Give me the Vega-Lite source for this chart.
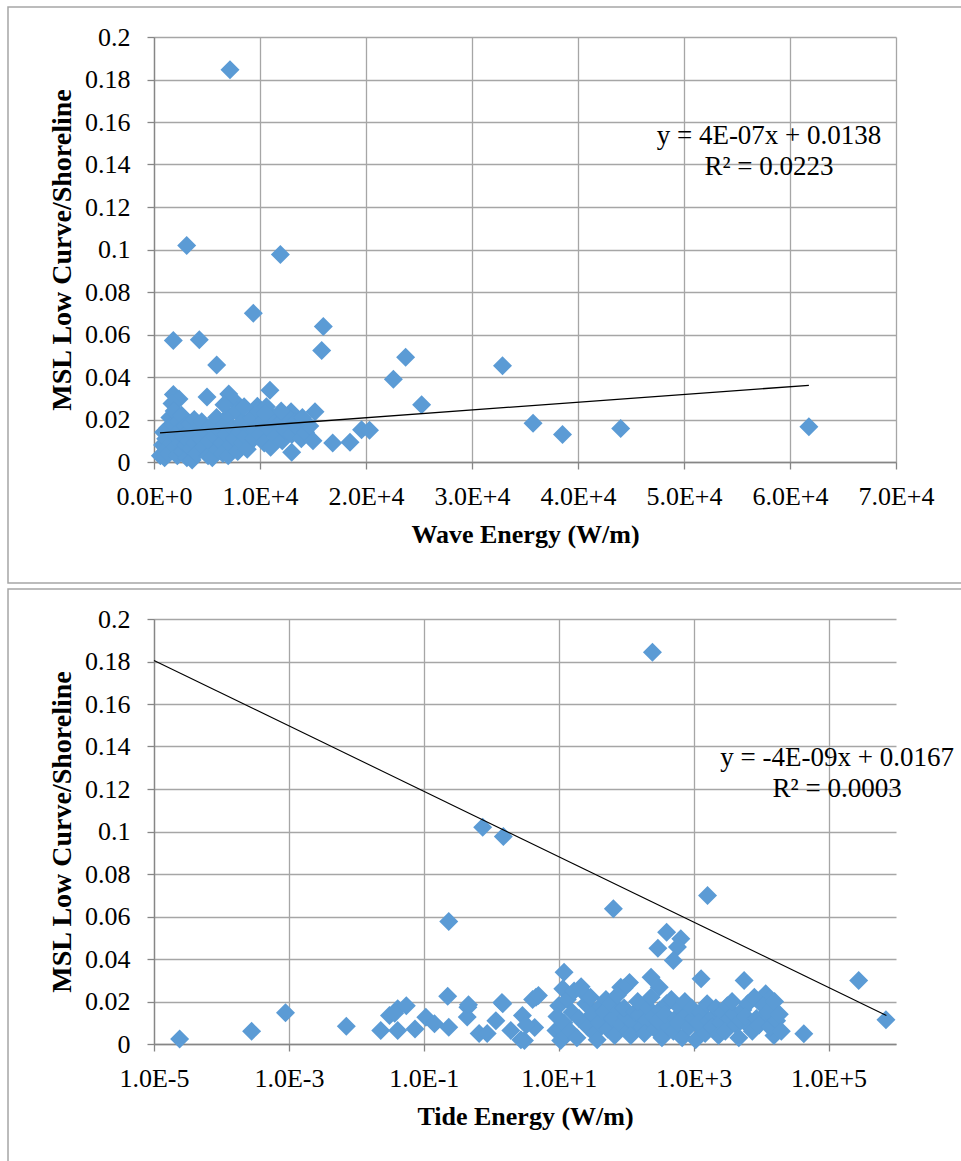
{
  "$schema": "https://vega.github.io/schema/vega-lite/v6.json",
  "autosize": {"type": "none"},
  "padding": {"left": 154, "top": 37, "right": 65, "bottom": 1124},
  "background": "white",
  "bounds": "flush",
  "spacing": 157,
  "config": {
    "view": {"stroke": null},
    "font": "Liberation Serif",
    "axis": {
      "grid": true,
      "domainColor": "#868686", "tickColor": "#868686", "gridColor": "#a6a6a6",
      "gridWidth": 1.3, "domainWidth": 1.3, "tickWidth": 1.3, "tickSize": 7,
      "labelFont": "Liberation Serif", "labelFontSize": 26, "labelColor": "black",
      "titleFont": "Liberation Serif", "titleFontSize": 26, "titleFontWeight": "bold", "titleColor": "black",
      "labelFlush": false, "labelOverlap": false, "labelBound": false
    }
  },
  "datasets": {
    "wave": [
      {"w":7170,"m":0.1846},{"w":3085,"m":0.1019},{"w":11920,"m":0.0976},{"w":9370,"m":0.07},{"w":15975,"m":0.0638},
      {"w":15820,"m":0.0525},{"w":1824,"m":0.0572},{"w":4275,"m":0.0575},{"w":5913,"m":0.0457},{"w":23740,"m":0.0493},
      {"w":22580,"m":0.039},{"w":25250,"m":0.0269},{"w":32880,"m":0.0453},{"w":35760,"m":0.0182},{"w":38540,"m":0.0129},
      {"w":44030,"m":0.0158},{"w":61780,"m":0.0166},{"w":19580,"m":0.0152},{"w":20330,"m":0.015},{"w":18490,"m":0.0093},
      {"w":16860,"m":0.0089},{"w":12990,"m":0.0046},{"w":10940,"m":0.0338},{"w":5000,"m":0.0306},{"w":7050,"m":0.032},
      {"w":7500,"m":0.0292},{"w":1830,"m":0.0318},{"w":2360,"m":0.0296},{"w":1700,"m":0.0275},{"w":15190,"m":0.0236},
      {"w":12930,"m":0.0237},{"w":9750,"m":0.0262},
      {"w":600,"m":0.003},{"w":800,"m":0.008},{"w":900,"m":0.014},{"w":1000,"m":0.002},{"w":1100,"m":0.011},
      {"w":1200,"m":0.006},{"w":1300,"m":0.016},{"w":1400,"m":0.004},{"w":1500,"m":0.021},{"w":1600,"m":0.009},
      {"w":1700,"m":0.013},{"w":1800,"m":0.018},{"w":1900,"m":0.024},{"w":2000,"m":0.007},{"w":2100,"m":0.012},
      {"w":2200,"m":0.003},{"w":2300,"m":0.019},{"w":2400,"m":0.015},{"w":2500,"m":0.009},{"w":2600,"m":0.022},
      {"w":2700,"m":0.005},{"w":2800,"m":0.012},{"w":2900,"m":0.017},{"w":3000,"m":0.008},{"w":3100,"m":0.002},
      {"w":3200,"m":0.014},{"w":3300,"m":0.01},{"w":3400,"m":0.018},{"w":3500,"m":0.006},{"w":3600,"m":0.001},
      {"w":3700,"m":0.013},{"w":3800,"m":0.02},{"w":3900,"m":0.009},{"w":4000,"m":0.004},{"w":4200,"m":0.016},
      {"w":4400,"m":0.011},{"w":4500,"m":0.019},{"w":4700,"m":0.007},{"w":4900,"m":0.014},{"w":5100,"m":0.003},
      {"w":5200,"m":0.01},{"w":5400,"m":0.017},{"w":5500,"m":0.002},{"w":5700,"m":0.012},{"w":5900,"m":0.021},
      {"w":6000,"m":0.006},{"w":6200,"m":0.015},{"w":6400,"m":0.009},{"w":6500,"m":0.004},{"w":6700,"m":0.018},
      {"w":6800,"m":0.013},{"w":7000,"m":0.003},{"w":7100,"m":0.022},{"w":7300,"m":0.008},{"w":7400,"m":0.016},
      {"w":7600,"m":0.011},{"w":7800,"m":0.024},{"w":7900,"m":0.005},{"w":8100,"m":0.014},{"w":8300,"m":0.019},
      {"w":8400,"m":0.009},{"w":8600,"m":0.012},{"w":8800,"m":0.006},{"w":9000,"m":0.017},{"w":9200,"m":0.021},
      {"w":9400,"m":0.011},{"w":9600,"m":0.015},{"w":9800,"m":0.024},{"w":10000,"m":0.013},{"w":10200,"m":0.019},
      {"w":10400,"m":0.009},{"w":10600,"m":0.026},{"w":10800,"m":0.016},{"w":11000,"m":0.007},{"w":11200,"m":0.021},
      {"w":11500,"m":0.012},{"w":11800,"m":0.018},{"w":12100,"m":0.01},{"w":12400,"m":0.015},{"w":12700,"m":0.021},
      {"w":13000,"m":0.013},{"w":13300,"m":0.019},{"w":13600,"m":0.016},{"w":13900,"m":0.011},{"w":14300,"m":0.014},
      {"w":14700,"m":0.017},{"w":15000,"m":0.01},{"w":14000,"m":0.021},{"w":12000,"m":0.024},{"w":10500,"m":0.023},
      {"w":8500,"m":0.026},{"w":6600,"m":0.027}
    ],
    "wavetrend": [{"w":566,"m":0.0137},{"w":61780,"m":0.0361}],
    "tide": [
      {"t":0.000024,"m":0.0023},{"t":0.00028,"m":0.006},{"t":0.00089,"m":0.0147},{"t":0.0071,"m":0.0084},
      {"t":0.746,"m":0.102},{"t":1.51,"m":0.0976},{"t":0.234,"m":0.0576},{"t":0.226,"m":0.0225},
      {"t":0.023,"m":0.0064},{"t":0.031,"m":0.0134},{"t":0.041,"m":0.0166},{"t":0.055,"m":0.018},
      {"t":0.041,"m":0.0064},{"t":0.074,"m":0.0071},{"t":0.107,"m":0.0126},{"t":0.144,"m":0.0095},
      {"t":0.234,"m":0.0079},{"t":0.45,"m":0.0173},{"t":0.44,"m":0.0127},{"t":0.66,"m":0.0049},
      {"t":0.87,"m":0.005},{"t":1.48,"m":0.0189},{"t":1.17,"m":0.011},{"t":1.95,"m":0.0064},
      {"t":3.1,"m":0.0016},{"t":4.6,"m":0.022},{"t":4.4,"m":0.0078},{"t":2.9,"m":0.0134},
      {"t":12,"m":0.0338},{"t":11.5,"m":0.026},{"t":9.1,"m":0.0064},{"t":10.7,"m":0.0016},
      {"t":0.037,"m":0.0145},{"t":0.46,"m":0.0185},{"t":3.3,"m":0.0089},{"t":2.75,"m":0.002},
      {"t":4.1,"m":0.021},{"t":5.0,"m":0.0228},{"t":1.44,"m":0.0195},
      {"t":245,"m":0.1844},{"t":1607,"m":0.0699},{"t":64.6,"m":0.0636},{"t":398,"m":0.0526},
      {"t":646,"m":0.0495},{"t":575,"m":0.0456},{"t":295,"m":0.0451},{"t":500,"m":0.0393},
      {"t":280000,"m":0.0299},{"t":710000,"m":0.0114},{"t":43000,"m":0.0048},{"t":1290,"m":0.0307},
      {"t":5600,"m":0.0299},{"t":234,"m":0.0314},{"t":309,"m":0.0267},{"t":112,"m":0.029},
      {"t":83,"m":0.0267},{"t":11700,"m":0.0236},{"t":13200,"m":0.021},{"t":15500,"m":0.004},
      {"t":10000,"m":0.012},{"t":93,"m":0.0263},
      {"t":10,"m":0.018},{"t":10.8,"m":0.007},{"t":9.4,"m":0.013},
      {"t":12.6,"m":0.004},{"t":13.4,"m":0.021},{"t":11.9,"m":0.01},
      {"t":15.8,"m":0.015},{"t":16.9,"m":0.025},{"t":14.8,"m":0.006},
      {"t":20,"m":0.012},{"t":21.5,"m":0.027},{"t":18.6,"m":0.003},
      {"t":25.1,"m":0.019},{"t":26.8,"m":0.008},{"t":23.7,"m":0.024},
      {"t":31.6,"m":0.014},{"t":33.8,"m":0.005},{"t":29.5,"m":0.022},
      {"t":39.8,"m":0.01},{"t":42.5,"m":0.018},{"t":37.2,"m":0.002},
      {"t":50.1,"m":0.021},{"t":53.7,"m":0.007},{"t":46.8,"m":0.015},
      {"t":63.1,"m":0.012},{"t":67.6,"m":0.004},{"t":58.9,"m":0.019},
      {"t":79.4,"m":0.016},{"t":85.1,"m":0.009},{"t":74.1,"m":0.023},
      {"t":100,"m":0.013},{"t":107,"m":0.006},{"t":93.3,"m":0.017},
      {"t":126,"m":0.01},{"t":135,"m":0.015},{"t":117,"m":0.004},
      {"t":158,"m":0.014},{"t":170,"m":0.008},{"t":148,"m":0.02},
      {"t":200,"m":0.011},{"t":214,"m":0.017},{"t":186,"m":0.005},
      {"t":251,"m":0.013},{"t":269,"m":0.007},{"t":234,"m":0.022},
      {"t":316,"m":0.016},{"t":339,"m":0.003},{"t":295,"m":0.011},
      {"t":398,"m":0.019},{"t":427,"m":0.008},{"t":372,"m":0.014},
      {"t":501,"m":0.006},{"t":537,"m":0.012},{"t":468,"m":0.021},
      {"t":631,"m":0.017},{"t":676,"m":0.003},{"t":589,"m":0.01},
      {"t":794,"m":0.014},{"t":851,"m":0.008},{"t":741,"m":0.02},
      {"t":1000,"m":0.012},{"t":1072,"m":0.002},{"t":933,"m":0.017},
      {"t":1259,"m":0.015},{"t":1349,"m":0.007},{"t":1175,"m":0.01},
      {"t":1585,"m":0.019},{"t":1698,"m":0.011},{"t":1479,"m":0.005},
      {"t":1995,"m":0.013},{"t":2138,"m":0.017},{"t":1862,"m":0.008},
      {"t":2512,"m":0.01},{"t":2692,"m":0.015},{"t":2344,"m":0.004},
      {"t":3162,"m":0.018},{"t":3388,"m":0.012},{"t":2951,"m":0.006},
      {"t":3981,"m":0.014},{"t":4266,"m":0.009},{"t":3715,"m":0.02},
      {"t":5012,"m":0.011},{"t":5370,"m":0.016},{"t":4677,"m":0.003},
      {"t":6310,"m":0.019},{"t":6761,"m":0.008},{"t":5888,"m":0.013},
      {"t":7943,"m":0.022},{"t":8511,"m":0.012},{"t":7413,"m":0.006},
      {"t":10700,"m":0.018},{"t":9333,"m":0.009},
      {"t":12589,"m":0.015},{"t":13490,"m":0.008},
      {"t":15849,"m":0.02},{"t":16982,"m":0.011},
      {"t":19953,"m":0.006},{"t":18621,"m":0.014}
    ],
    "tidetrend": [{"t":0.00001,"m":0.1805},{"t":720000,"m":0.0134}]
  },
  "vconcat": [
    {
      "width": 742,
      "height": 425,
      "layer": [
        {
          "data": {"values": [{"frame": "chart area"}]},
          "mark": {"type": "rect", "fill": null, "stroke": "#a6a6a6", "strokeWidth": 1.5, "clip": false},
          "encoding": {
            "x": {"datum": -13774, "type": "quantitative"},
            "x2": {"datum": 76509},
            "y": {"datum": 0.2141, "type": "quantitative"},
            "y2": {"datum": -0.0569}
          }
        },
        {
          "data": {"name": "wave"},
          "mark": {"type": "point", "shape": "diamond", "filled": true, "size": 361, "color": "#5B9BD5", "opacity": 1, "strokeWidth": 0},
          "encoding": {
            "x": {"field": "w", "type": "quantitative",
              "scale": {"domain": [0, 70000], "nice": false, "zero": false},
              "axis": {"grid": true, "values": [0,10000,20000,30000,40000,50000,60000,70000],
                "labelExpr": "upper(format(datum.value, '.1e'))",
                "labelPadding": 14, "title": "Wave Energy (W/m)",
                "titleY": 80, "titleBaseline": "alphabetic"}},
            "y": {"field": "m", "type": "quantitative",
              "scale": {"domain": [0, 0.2], "nice": false},
              "axis": {"grid": true, "values": [0,0.02,0.04,0.06,0.08,0.1,0.12,0.14,0.16,0.18,0.2],
                "format": "~g", "labelPadding": 17,
                "title": "MSL Low Curve/Shoreline", "titleFontSize": 28,
                "titleX": -84, "titleY": 212.5, "titleBaseline": "alphabetic"}}
          }
        },
        {
          "data": {"name": "wavetrend"},
          "mark": {"type": "line", "color": "black", "strokeWidth": 1.3},
          "encoding": {
            "x": {"field": "w", "type": "quantitative"},
            "y": {"field": "m", "type": "quantitative"}
          }
        },
        {
          "data": {"values": [{"label": ["y = 4E-07x + 0.0138", "R² = 0.0223"]}]},
          "mark": {"type": "text", "font": "Liberation Serif", "fontSize": 27, "align": "center", "baseline": "middle", "lineHeight": 31, "color": "black"},
          "encoding": {
            "x": {"datum": 58019, "type": "quantitative"},
            "y": {"datum": 0.1534, "type": "quantitative"},
            "text": {"field": "label"}
          }
        }
      ]
    },
    {
      "width": 742,
      "height": 425,
      "layer": [
        {
          "data": {"values": [{"frame": "chart area"}]},
          "mark": {"type": "rect", "fill": null, "stroke": "#a6a6a6", "strokeWidth": 1.5, "clip": false},
          "encoding": {
            "x": {"datum": 6.85e-8, "type": "quantitative"},
            "x2": {"datum": 10500000},
            "y": {"datum": 0.2141, "type": "quantitative"},
            "y2": {"datum": -0.0593}
          }
        },
        {
          "data": {"name": "tide"},
          "mark": {"type": "point", "shape": "diamond", "filled": true, "size": 361, "color": "#5B9BD5", "opacity": 1, "strokeWidth": 0},
          "encoding": {
            "x": {"field": "t", "type": "quantitative",
              "scale": {"type": "log", "domain": [0.00001, 1000000], "nice": false},
              "axis": {"grid": true, "values": [0.00001, 0.001, 0.1, 10, 1000, 100000],
                "labelExpr": "upper(format(datum.value, '.1e'))",
                "labelPadding": 14, "title": "Tide Energy (W/m)",
                "titleY": 80, "titleBaseline": "alphabetic"}},
            "y": {"field": "m", "type": "quantitative",
              "scale": {"domain": [0, 0.2], "nice": false},
              "axis": {"grid": true, "values": [0,0.02,0.04,0.06,0.08,0.1,0.12,0.14,0.16,0.18,0.2],
                "format": "~g", "labelPadding": 17,
                "title": "MSL Low Curve/Shoreline", "titleFontSize": 28,
                "titleX": -84, "titleY": 212.5, "titleBaseline": "alphabetic"}}
          }
        },
        {
          "data": {"name": "tidetrend"},
          "mark": {"type": "line", "color": "black", "strokeWidth": 1.1},
          "encoding": {
            "x": {"field": "t", "type": "quantitative"},
            "y": {"field": "m", "type": "quantitative"}
          }
        },
        {
          "data": {"values": [{"label": ["y = -4E-09x + 0.0167", "R² = 0.0003"]}]},
          "mark": {"type": "text", "font": "Liberation Serif", "fontSize": 27, "align": "center", "baseline": "middle", "lineHeight": 31, "color": "black"},
          "encoding": {
            "x": {"datum": 134000, "type": "quantitative"},
            "y": {"datum": 0.1344, "type": "quantitative"},
            "text": {"field": "label"}
          }
        }
      ]
    }
  ]
}
